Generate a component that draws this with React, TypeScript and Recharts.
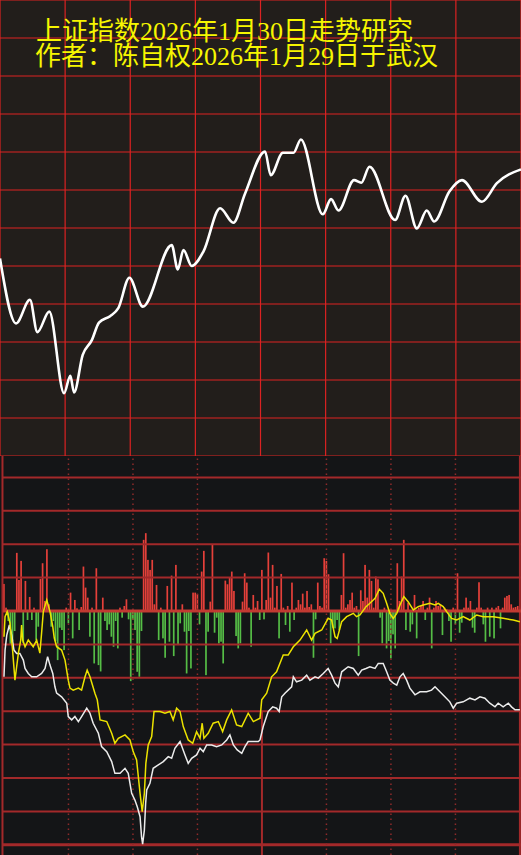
import React from 'react';
import { ComposedChart, LineChart, Line, Bar, XAxis, YAxis, ReferenceLine } from 'recharts';

const titleLines = ['上证指数2026年1月30日走势研究', '作者：陈自权2026年1月29日于武汉'];

// top panel: projected trend (grid units, 0..12)
const trendMinutes = [0, 7.4, 13.8, 17.2, 22.7, 29.5, 32.4, 34.1, 38.1, 42.3, 45.6, 50.7, 54.5, 59.6, 65.8, 79.1, 81.9, 84.5, 88.3, 93.7, 101.4, 107.5, 112.9, 122.1, 124.7, 130.3, 135.2, 138.6, 148.7, 152.5, 155.9, 163.1, 166.4, 170.2, 182, 186.8, 192, 196.6, 200, 207, 212.8, 222, 228.9, 240];
const trendLevels = [5.2, 3.49, 4.11, 3.26, 3.8, 1.65, 2.11, 1.67, 2.66, 3.05, 3.51, 3.68, 3.89, 4.69, 3.93, 5.55, 4.91, 5.42, 5.0, 5.38, 6.52, 6.14, 6.91, 8.01, 7.39, 7.98, 7.98, 8.33, 6.36, 6.76, 6.46, 7.26, 7.19, 7.61, 6.21, 6.85, 5.99, 6.46, 6.17, 6.96, 7.26, 6.69, 7.18, 7.54];

// bottom panel: per-minute flow bars (241 minutes)
const flowValues = [
  0.81, 0.1, -0.3, -1.0, -0.9, -0.6, 1.74, 0.93, 1.5, -0.96,
  0.9, -0.27, 0.42, -0.27, 0.1, -0.87, -0.47, 0.96, 1.43, 0.3,
  1.85, 0.2, -0.47, -0.3, -0.9, -1.47, -0.5, -0.57, -1.17, 0.1,
  -0.37, 0.55, -0.82, 0.33, 0.08, -0.57, 0.12, 1.33, 0.7, 0.4,
  -0.77, 0.1, -1.57, 1.28, -1.62, -1.81, 0.4, -0.3, -0.57, -0.4,
  -0.77, -1.07, -0.3, -1.12, 0.1, -0.2, 0.15, 0.35, -0.25, -2.1,
  -0.27, -0.57, -1.82, -1.97, -0.6, 2.13, 2.33, 1.53, 1.23, 1.53,
  0.2, 0.78, -0.87, 0.1, -0.82, -1.4, 0.75, -0.92, 1.06, -1.35,
  1.38, -1.02, -0.37, 0.2, -0.62, -1.87, -0.6, -1.72, 0.55, 0.55,
  0.5, -0.4, 1.18, 1.8, -1.92, -0.62, 0.28, 2.0, -0.65, -0.2,
  -0.97, -0.92, -1.57, 0.91, 0.8, 1.0, 1.18, 0.6, -0.75, -1.12,
  -0.97, 0.28, 1.13, 0.85, 0.1, -1.07, 0.48, 0.1, 0.3, -0.27,
  1.23, -0.25, 0.33, 1.75, 0.4, 1.38, 0.1, 0.75, -0.82, 1.11,
  0.1, -0.42, 0.15, -0.62, 0.85, -0.27, 0.1, 0.33, 0.2, 0.52,
  0.1, 0.6, 0.12, 0.2, -1.4, -0.25, 0.85, 0.15, 0.1, 1.58,
  1.5, 1.1, -0.97, -0.5, -0.52, -0.27, -0.57, 0.48, 1.73, 0.1,
  0.2, 0.33, 0.55, 0.1, 0.15, -1.35, 0.62, 0.3, 1.38, 0.4,
  1.23, 0.9, 0.1, 1.03, 0.95, -0.2, -0.97, 0.1, -1.12, -0.9,
  -1.42, -0.7, -1.12, 1.43, 0.3, 1.03, 2.13, -0.57, 0.25, -0.62,
  -0.4, 0.48, -0.82, 0.1, 0.15, 0.3, -0.27, 0.1, 0.4, -1.12,
  0.1, 0.3, 0.15, 0.2, -0.72, 0.1, 0.05, -0.3, -0.92, 0.1,
  -0.4, 1.13, -0.65, -0.35, 0.1, 0.4, 0.1, 0.3, -0.5, -0.65,
  0.1, 0.86, 0.1, -0.4, -0.92, 0.1, -0.77, 0.1, -0.82, 0.1,
  0.15, -0.52, 0.1, 0.4, 0.45, 0.48, 0.2, 0.1, 0.12, 0.15,
  0.1,
];

const yellowMinutes = [0, 0.5, 1.5, 2.8, 4, 5.1, 5.9, 6.7, 7.8, 8.2, 8.7, 9.8, 11.3, 13.6, 15.2, 16.7, 17.5, 18.3, 19.9, 21.4, 22.7, 23.4, 24.5, 26.8, 28.4, 29.9, 30.7, 32.2, 34.6, 36.1, 37.7, 38.7, 40, 42.3, 43.4, 44.7, 47.8, 50.1, 51.6, 53.2, 56.3, 58.6, 60.1, 61.7, 63.3, 64.3, 65.3, 66, 67.1, 68.7, 69.8, 72.6, 74.9, 77.2, 78.7, 80.3, 81.9, 83.4, 85.7, 87.8, 89.6, 91.2, 92.2, 93, 95, 97.3, 99.7, 101.7, 103.6, 105.9, 108.2, 110.6, 113.6, 116, 119.1, 119.9, 122.2, 124.5, 126.8, 129.9, 132.2, 134.6, 137.7, 140.8, 143.1, 144.7, 147.8, 150.8, 152.4, 154, 155, 157.1, 159.4, 162.5, 164, 165.6, 168.4, 170.2, 172.6, 174.6, 176.4, 178, 179.5, 181.1, 182.7, 184.2, 186, 188, 190.4, 192.7, 195, 198.1, 200.5, 202, 204.3, 205.9, 208.2, 210.6, 213.6, 216.7, 219.9, 222.9, 227.6, 232.2, 236.9, 240];
const yellowValues = [-0.77, -0.17, -0.02, -0.36, -1.17, -2.07, -1.67, -1.26, -0.87, -0.42, -0.87, -1.07, -0.87, -1.07, -0.87, -1.26, -0.66, -0.02, 0.33, -0.02, -0.47, -0.81, -1.07, -1.17, -1.47, -2.07, -2.31, -2.37, -2.31, -2.37, -1.97, -1.77, -1.97, -2.46, -2.66, -3.26, -3.31, -3.66, -3.96, -3.81, -3.71, -3.86, -4.21, -4.46, -5.46, -6.01, -5.46, -4.56, -4.01, -3.76, -3.01, -3.01, -3.06, -3.01, -3.26, -2.91, -3.01, -3.46, -3.86, -3.96, -3.61, -3.81, -3.36, -3.81, -3.66, -3.36, -3.31, -3.61, -3.26, -2.96, -3.41, -3.46, -3.06, -3.31, -3.21, -2.66, -2.46, -1.97, -1.82, -1.32, -1.32, -1.07, -0.87, -0.57, -0.87, -0.67, -0.57, -0.22, -0.27, -0.77, -0.82, -0.32, -0.17, -0.07, -0.17, -0.12, 0.13, 0.23, 0.38, 0.65, 0.53, 0.23, -0.07, -0.22, -0.07, 0.18, 0.43, 0.28, 0.03, 0.13, 0.18, 0.23, 0.18, 0.23, 0.13, -0.02, -0.22, -0.27, -0.17, -0.27, -0.12, -0.17, -0.17, -0.22, -0.27, -0.32];

const whiteMinutes = [0, 0.5, 1.3, 2.5, 3.6, 4.65, 5.9, 7.4, 9, 9.8, 11.3, 12.9, 15.2, 17.5, 19.1, 20.3, 21.4, 22.7, 23.7, 24.5, 26.8, 29.2, 29.9, 31.5, 33, 34.6, 36.1, 38.5, 40, 41.5, 43.9, 45.4, 47.8, 50.1, 51.6, 54, 56.3, 57.8, 59.4, 60.9, 62, 63.3, 64, 64.5, 65.3, 65.9, 66.4, 67.9, 69.4, 71.8, 74.1, 76.4, 78, 79.5, 81.9, 84.2, 85.7, 87.3, 89.6, 91.2, 92.7, 94.3, 96.6, 98.9, 101.3, 103.6, 105.1, 106.7, 108.5, 110.6, 112.1, 113.6, 116, 118.3, 119.1, 120.6, 122.9, 125, 126.8, 128, 129.2, 130.7, 133.8, 134.6, 136.1, 138.5, 140.8, 142.3, 144.7, 146.2, 148.5, 150.8, 152.4, 154, 155.5, 157.1, 160.1, 162.5, 164.8, 166.4, 168.4, 170.2, 172.6, 174.1, 176.4, 178, 179.5, 181.1, 182.7, 184.2, 185.7, 187.3, 188.8, 191.2, 193.5, 196.6, 198.9, 200.5, 202.8, 205.1, 207.4, 209, 210.6, 213.6, 216.7, 219.1, 221.4, 223.7, 226, 228.4, 229.9, 232.2, 234.6, 236.1, 237.7, 240];
const whiteValues = [-1.97, -1.17, -0.72, -0.42, -0.72, -1.17, -1.27, -1.27, -1.47, -1.72, -1.87, -1.97, -1.97, -1.87, -1.72, -1.37, -1.62, -1.87, -2.27, -2.46, -2.57, -2.76, -3.16, -3.26, -3.16, -3.31, -3.16, -2.91, -3.06, -3.36, -3.66, -4.06, -4.21, -4.51, -4.86, -4.86, -4.71, -4.86, -5.46, -5.66, -5.86, -6.16, -6.76, -6.98, -6.56, -5.76, -5.36, -5.16, -4.71, -4.61, -4.51, -4.36, -4.41, -4.11, -3.91, -4.31, -4.56, -4.41, -4.31, -4.11, -4.21, -4.01, -4.01, -4.06, -4.01, -3.86, -3.71, -4.01, -4.16, -4.26, -4.06, -3.91, -3.91, -3.91, -3.86, -3.46, -3.01, -2.87, -2.91, -3.01, -2.57, -2.46, -2.27, -1.97, -2.12, -2.07, -1.92, -2.07, -1.97, -2.01, -1.87, -1.72, -1.92, -2.16, -2.27, -1.82, -1.67, -1.72, -1.92, -1.77, -1.72, -1.67, -1.72, -1.57, -1.57, -1.82, -2.07, -2.16, -2.22, -1.97, -1.87, -2.07, -2.31, -2.51, -2.42, -2.42, -2.37, -2.27, -2.42, -2.57, -2.72, -2.91, -2.76, -2.72, -2.61, -2.66, -2.57, -2.61, -2.76, -2.87, -2.76, -2.87, -2.76, -2.87, -2.96, -2.96];

const topGridX = [0, 30, 60, 90, 120, 150, 180, 210, 240];
const topGridY = [0, 1, 2, 3, 4, 5, 6, 7, 8, 9, 10, 11, 12];
const bottomGridY = [-7, -6, -5, -4, -3, -2, -1, 1, 2, 3, 4];
const bottomDotX = [30, 60, 90, 150, 180, 210];

const trendData = trendMinutes.map((t, i) => ({ t, v: trendLevels[i] }));
const flowData = flowValues.map((v, t) => ({ t, v }));
const yellowData = yellowMinutes.map((t, i) => ({ t, v: yellowValues[i] }));
const whiteData = whiteMinutes.map((t, i) => ({ t, v: whiteValues[i] }));

const TOP_GRID = '#dc2222';
const BOT_GRID = '#a3292a';
const DOT = '#8e2a2a';
const RED = '#e5403a';
const GREEN = '#55bd46';

const FlowBar = (p: any) => {
  const { x, y, width, height, payload } = p;
  if (x == null || y == null || !height) return null;
  const top = Math.min(y, y + height);
  const h = Math.abs(height);
  const w = 1.7;
  return <rect x={x + width / 2 - w / 2} y={top} width={w} height={h} fill={payload.v >= 0 ? RED : GREEN} />;
};

export default function App() {
  return (
    <div style={{ position: 'absolute', left: 0, top: 0, width: 521, height: 855, overflow: 'hidden' }}>
      <div style={{ position: 'absolute', left: 0, top: 0, width: 521, height: 456, background: '#221e1b' }}>
        <LineChart width={521} height={456} data={trendData} margin={{ top: 0, right: 0, bottom: 0, left: 0 }}>
          <XAxis type="number" dataKey="t" domain={[0, 240]} hide />
          <YAxis type="number" domain={[0, 12]} hide />
          {topGridY.map((v) => (
            <ReferenceLine key={'ty' + v} y={v} stroke={TOP_GRID} strokeWidth={1.2} />
          ))}
          {topGridX.map((v) => (
            <ReferenceLine key={'tx' + v} x={v} stroke={TOP_GRID} strokeWidth={1.2} />
          ))}
          <Line type="monotone" dataKey="v" stroke="#ffffff" strokeWidth={2.6} dot={false} isAnimationActive={false} />
        </LineChart>
        <svg width={521} height={80} style={{ position: 'absolute', left: 0, top: 0 }}>
          {titleLines.map((s, i) => (
            <text
              key={i}
              x={i === 0 ? 36 : 35}
              y={i === 0 ? 40 : 65}
              fill="#f6f600"
              fontSize={26}
              fontFamily="'Liberation Serif', 'Noto Sans CJK SC', serif"
            >
              {s}
            </text>
          ))}
        </svg>
      </div>
      <div style={{ position: 'absolute', left: 0, top: 456, width: 521, height: 399, background: '#141517' }}>
        <ComposedChart width={521} height={399} data={flowData} margin={{ top: 0, right: 0, bottom: 0, left: 2.9 }} barCategoryGap={0}>
          <XAxis type="category" dataKey="t" hide />
          <XAxis xAxisId="num" type="number" dataKey="t" domain={[-0.5, 240.5]} hide allowDataOverflow />
          <YAxis type="number" domain={[-7.305, 4.64]} hide allowDataOverflow />
          {bottomGridY.map((v) => (
            <ReferenceLine key={'by' + v} y={v} stroke={BOT_GRID} strokeWidth={v === -7 ? 3 : 2} />
          ))}
          {bottomDotX.map((v) => (
            <ReferenceLine key={'bx' + v} xAxisId="num" x={v} stroke={DOT} strokeWidth={1.5} strokeDasharray="1.5 3.5" />
          ))}
          <ReferenceLine xAxisId="num" x={-0.7} ifOverflow="visible" stroke={BOT_GRID} strokeWidth={2} />
          <ReferenceLine xAxisId="num" x={240} stroke={BOT_GRID} strokeWidth={2} />
          <ReferenceLine xAxisId="num" segment={[{ x: 120, y: -3 }, { x: 120, y: -7.305 }]} stroke={BOT_GRID} strokeWidth={2} />
          <Bar dataKey="v" isAnimationActive={false} shape={FlowBar} />
          <ReferenceLine y={0} stroke="#c23a32" strokeWidth={3} />
          <Line xAxisId="num" data={whiteData} dataKey="v" type="linear" stroke="#ececec" strokeWidth={1.5} dot={false} isAnimationActive={false} />
          <Line xAxisId="num" data={yellowData} dataKey="v" type="linear" stroke="#ece300" strokeWidth={1.5} dot={false} isAnimationActive={false} />
        </ComposedChart>
      </div>
    </div>
  );
}
